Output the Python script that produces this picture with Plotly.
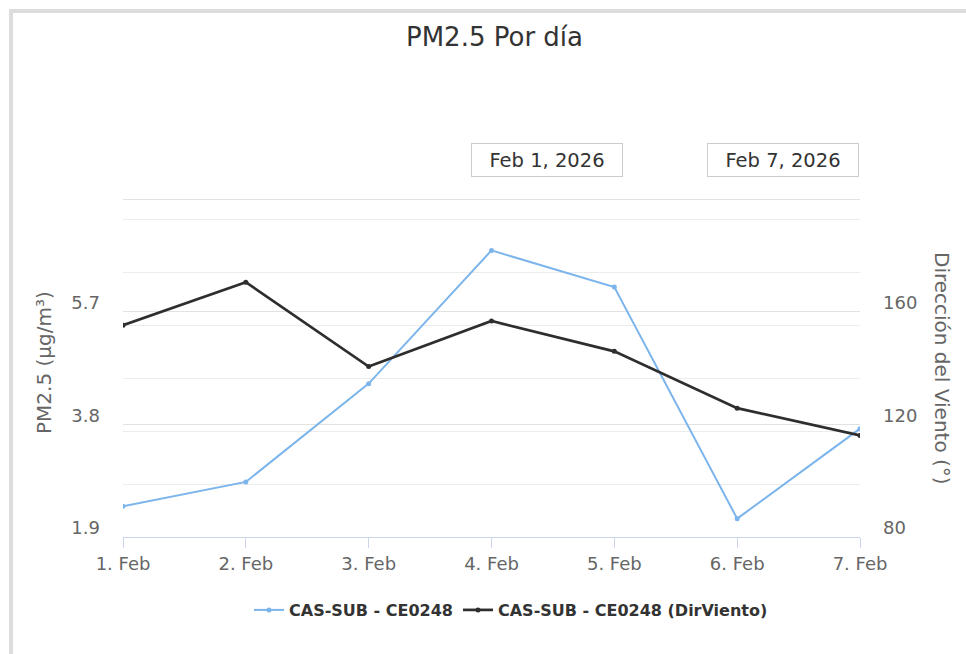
import plotly.graph_objects as go

categories = ["1. Feb", "2. Feb", "3. Feb", "4. Feb", "5. Feb", "6. Feb", "7. Feb"]
pm25 = [2.42, 2.83, 4.49, 6.74, 6.12, 2.21, 3.73]
dir_viento = [155.3, 170.6, 140.6, 156.8, 146.0, 125.8, 116.1]
left_ticks = [1.9, 3.8, 5.7, 7.6]
left_ticktext = ["1.9", "3.8", "5.7", ""]
right_ticks = [80, 120, 160, 200]
right_ticktext = ["80", "120", "160", ""]
range_labels = ["Feb 1, 2026", "Feb 7, 2026"]
series_names = ["CAS-SUB - CE0248", "CAS-SUB - CE0248 (DirViento)"]

FONT = "DejaVu Sans"
W, H = 966, 654
L, R, T, B = 123, 106, 198, 117
PW, PH = W - L - R, H - T - B

def px(x):
    return (x - L) / PW

def py(y):
    return (H - B - y) / PH

# small headroom so the top gridline is not clipped at the plot edge
y1_max = left_ticks[-1] + 0.025
y2_max = right_ticks[0] + (y1_max - left_ticks[0]) / (left_ticks[-1] - left_ticks[0]) * (right_ticks[-1] - right_ticks[0])

fig = go.Figure()
fig.add_trace(go.Scatter(
    x=categories, y=pm25, name=series_names[0], mode="lines+markers",
    line=dict(color="#7cb5ec", width=2), marker=dict(size=5, color="#7cb5ec"),
    yaxis="y"))
fig.add_trace(go.Scatter(
    x=categories, y=dir_viento, name=series_names[1], mode="lines+markers",
    line=dict(color="#2e2e2e", width=2.7), marker=dict(size=5, color="#2e2e2e"),
    yaxis="y2"))

fig.update_layout(
    width=W, height=H,
    margin=dict(l=L, r=R, t=T, b=B, autoexpand=False),
    paper_bgcolor="white", plot_bgcolor="white",
    font=dict(family=FONT, color="#666666"),
    title=dict(text="PM2.5 Por día", x=494.5 / W, y=1 - 37 / H, xanchor="center",
               yanchor="middle", font=dict(size=26, color="#333333", family=FONT)),
    xaxis=dict(type="category", range=[0, len(categories) - 1], showgrid=False,
               showline=True, linecolor="#ccd6eb", linewidth=1,
               ticks="outside", ticklen=10, tickcolor="#ccd6eb",
               tickfont=dict(size=18, color="#666666"), zeroline=False),
    yaxis=dict(range=[left_ticks[0], y1_max], tickmode="array",
               tickvals=left_ticks, ticktext=left_ticktext,
               showgrid=True, gridcolor="#e2e2e2", gridwidth=1, zeroline=False,
               showline=False, tickfont=dict(size=18, color="#666666"),
               ticklabelstandoff=22, ticklabelshift=-9),
    yaxis2=dict(range=[right_ticks[0], y2_max], overlaying="y", side="right",
                tickmode="array", tickvals=right_ticks, ticktext=right_ticktext,
                showgrid=False, zeroline=False, showline=False,
                minor=dict(tick0=80, dtick=18.8, showgrid=True, gridcolor="#ececec",
                           gridwidth=1, ticks=""),
                tickfont=dict(size=18, color="#666666"),
                ticklabelstandoff=22, ticklabelshift=-9),
    showlegend=True,
    legend=dict(orientation="h", x=px(511), xanchor="center", y=py(610),
                yanchor="middle",
                font=dict(size=16, color="#333333", family=FONT, weight="bold"),
                itemwidth=30, bgcolor="rgba(0,0,0,0)"),
    hovermode=False,
)

# axis titles
fig.add_annotation(text="PM2.5 (µg/m³)", xref="paper", yref="paper",
                   x=px(44), y=py(363), xanchor="center", yanchor="middle",
                   textangle=-90, showarrow=False,
                   font=dict(size=20, color="#666666", family=FONT))
fig.add_annotation(text="Dirección del Viento (°)", xref="paper", yref="paper",
                   x=px(942), y=py(368), xanchor="center", yanchor="middle",
                   textangle=90, showarrow=False,
                   font=dict(size=20, color="#666666", family=FONT))

# range selector boxes
for lbl, cx in zip(range_labels, [547, 783]):
    fig.add_annotation(text=lbl, xref="paper", yref="paper", x=px(cx), y=py(160),
                       xanchor="center", yanchor="middle",
                       showarrow=False, width=150, height=32, borderpad=0,
                       bordercolor="#cccccc", borderwidth=1, bgcolor="white",
                       font=dict(size=19.5, color="#333333", family=FONT))

# outer container border
fig.add_shape(type="rect", xref="paper", yref="paper",
              x0=px(11), x1=px(1000), y0=py(700), y1=py(11),
              line=dict(color="#dcdcdc", width=4), layer="below")

fig.write_html("out.html", config={"displayModeBar": False},
               post_script="document.body.style.margin='0px';")
